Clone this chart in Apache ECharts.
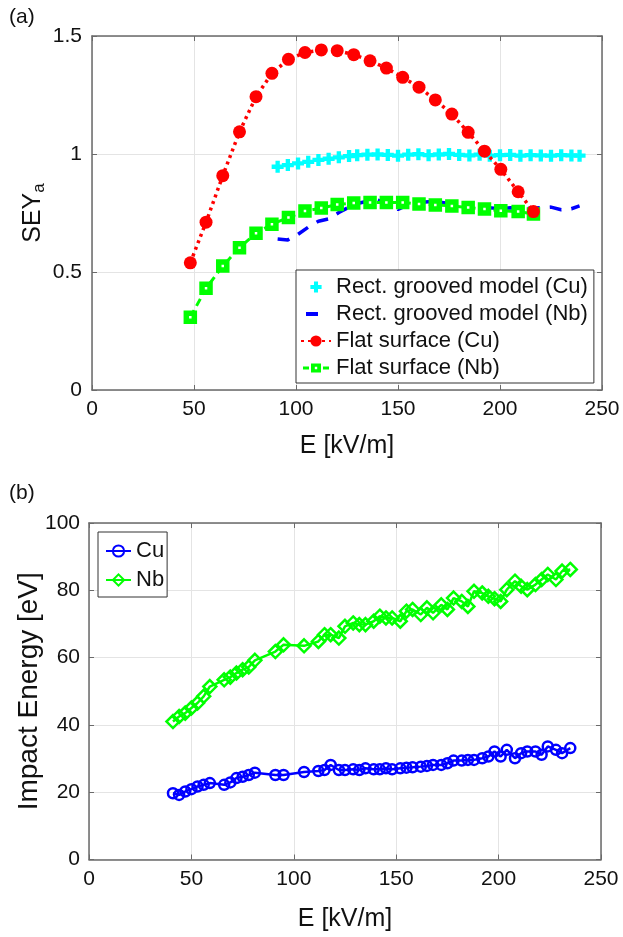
<!DOCTYPE html>
<html>
<head>
<meta charset="utf-8">
<script src="https://cdn.jsdelivr.net/npm/echarts@6/dist/echarts.min.js"></script>
<style>
  html, body { margin: 0; padding: 0; background: #fff; }
  #chart { width: 623px; height: 937px; }
</style>
</head>
<body>
<div id="chart"></div>
<script>
// ---- (a) SEY vs field ----
const flatE = [48.2, 55.9, 64.1, 72.3, 80.4, 88.2, 96.3, 104.4, 112.4, 120.2, 128.3, 136.3, 144.3, 152.3, 160.3, 168.3, 176.4, 184.4, 192.4, 200.4, 208.9, 216.4];
const flatCu = [0.539, 0.711, 0.908, 1.094, 1.243, 1.342, 1.401, 1.430, 1.441, 1.438, 1.421, 1.395, 1.364, 1.325, 1.283, 1.229, 1.169, 1.092, 1.012, 0.935, 0.840, 0.756];
const flatNb = [0.308, 0.431, 0.525, 0.603, 0.664, 0.702, 0.731, 0.758, 0.771, 0.786, 0.792, 0.795, 0.795, 0.795, 0.788, 0.784, 0.780, 0.773, 0.767, 0.760, 0.756, 0.746];

const rectE = [91, 96, 101, 106, 111, 116, 121, 126, 130, 135, 140, 145, 150, 155, 160, 165, 170, 175, 180, 185, 190, 195, 200, 205, 210, 215, 220, 225, 230, 235, 239];
const rectCu = [0.946, 0.953, 0.960, 0.967, 0.975, 0.980, 0.986, 0.991, 0.995, 0.997, 0.998, 0.996, 0.993, 0.997, 0.999, 0.995, 0.998, 1.000, 0.996, 0.994, 0.997, 0.993, 0.995, 0.996, 0.993, 0.995, 0.994, 0.993, 0.995, 0.994, 0.993];
const rectNb = [0.640, 0.636, 0.660, 0.690, 0.715, 0.725, 0.752, 0.775, 0.790, 0.800, 0.805, 0.790, 0.765, 0.785, 0.795, 0.798, 0.797, 0.790, 0.784, 0.780, 0.776, 0.772, 0.768, 0.772, 0.768, 0.770, 0.772, 0.775, 0.764, 0.768, 0.780];

// ---- (b) impact energy vs field ----
const impE = [41, 44, 47, 50, 53, 56, 59, 66, 69, 72, 75, 78, 81, 91, 95, 105, 112, 115, 118, 122, 125, 129, 132, 135, 139, 142, 145, 148, 152, 155, 158, 162, 165, 168, 172, 175, 178, 182, 185, 188, 192, 195, 198, 201, 204, 208, 211, 214, 218, 221, 224, 228, 231, 235];
const impCu = [19.7, 19.2, 20.2, 20.9, 21.7, 22.2, 22.7, 22.2, 22.9, 24.2, 24.6, 25.1, 25.8, 25.1, 25.1, 26.0, 26.3, 26.6, 28.1, 26.6, 26.6, 26.8, 26.6, 27.1, 26.8, 26.8, 27.1, 26.8, 27.1, 27.3, 27.4, 27.6, 27.8, 28.1, 28.1, 28.6, 29.4, 29.4, 29.6, 29.6, 30.1, 30.6, 32.1, 30.6, 32.6, 30.1, 31.6, 32.1, 32.1, 31.1, 33.6, 32.6, 31.6, 33.1];
const impNb = [41.0, 42.5, 43.5, 45.0, 46.5, 48.5, 51.4, 53.4, 54.2, 55.4, 56.4, 57.2, 59.2, 61.8, 63.8, 63.5, 64.8, 66.8, 66.8, 65.8, 69.3, 70.3, 69.8, 69.8, 70.8, 72.3, 71.8, 71.8, 70.8, 73.8, 74.3, 72.8, 74.8, 73.3, 75.7, 74.3, 77.7, 76.7, 75.2, 79.7, 79.2, 78.2, 77.5, 76.7, 80.2, 82.7, 81.2, 80.2, 81.7, 83.2, 84.7, 83.2, 85.7, 86.2];

const xTicks = [0, 50, 100, 150, 200, 250];

const FONT = '"Liberation Sans", Arial, sans-serif';
const AXIS_COLOR = '#6a6a6a';
const GRID_COLOR = '#e4e4e4';
const PLUS = 'path://M3.2,0H6.8V3.2H10V6.8H6.8V10H3.2V6.8H0V3.2H3.2Z';
// legend glyphs; the two tiny corner triangles only fix each icon's bounding box
const DASH_ICON = 'path://M0,0L0.01,0L0,0.01Z M30,14L29.99,14L30,13.99Z M5,5H17V9H5Z';
const SQUARE_LINE_ICON = 'path://M0,0L0.01,0L0,0.01Z M30,14L29.99,14L30,13.99Z ' +
  'M2,5.5H8V8.5H2Z M22,5.5H28V8.5H22Z M10,2.5H20V11.5H10Z M13.8,5.7V8.3H16.2V5.7Z';

const pairs = (xs, ys) => xs.map((x, i) => [x, ys[i]]);

function mainX(gridIndex, nameGap) {
  return {
    type: 'value', gridIndex, min: 0, max: 250, interval: 50, position: 'bottom',
    name: 'E [kV/m]', nameLocation: 'middle', nameGap, nameMoveOverlap: false,
    nameTextStyle: { fontFamily: FONT, fontSize: 25, color: '#111' },
    axisLine: { show: true, onZero: false, lineStyle: { color: AXIS_COLOR, width: 1.5 } },
    axisTick: { show: true, inside: true, length: 5, lineStyle: { color: AXIS_COLOR } },
    axisLabel: { fontFamily: FONT, fontSize: 21, color: '#111', margin: 9,
      formatter: v => xTicks.includes(v) ? String(v) : '' },
    splitLine: { show: true, lineStyle: { color: GRID_COLOR, width: 1 } }
  };
}
function mirrorX(gridIndex) {
  return {
    type: 'value', gridIndex, min: 0, max: 250, interval: 50, position: 'top',
    axisLine: { show: true, onZero: false, lineStyle: { color: AXIS_COLOR, width: 1.5 } },
    axisTick: { show: true, inside: true, length: 5, lineStyle: { color: AXIS_COLOR } },
    axisLabel: { show: false }, splitLine: { show: false }
  };
}
function mirrorY(gridIndex, min, max, interval) {
  return {
    type: 'value', gridIndex, min, max, interval, position: 'right',
    axisLine: { show: true, onZero: false, lineStyle: { color: AXIS_COLOR, width: 1.5 } },
    axisTick: { show: true, inside: true, length: 5, lineStyle: { color: AXIS_COLOR } },
    axisLabel: { show: false }, splitLine: { show: false }
  };
}

const option = {
  animation: false,
  backgroundColor: '#fff',
  textStyle: { fontFamily: FONT },
  graphic: [
    { type: 'text', left: 9, top: 7, style: { text: '(a)', font: '21px ' + FONT, fill: '#111' } },
    { type: 'text', left: 9, top: 483, style: { text: '(b)', font: '21px ' + FONT, fill: '#111' } }
  ],
  grid: [
    { left: 92, right: 21, top: 36, height: 354 },
    { left: 89, right: 22, top: 523, height: 336.5 }
  ],
  xAxis: [mainX(0, 44), mainX(1, 47), mirrorX(0), mirrorX(1)],
  yAxis: [
    {
      type: 'value', gridIndex: 0, min: 0, max: 1.5, interval: 0.5, position: 'left',
      name: '{m|SEY}{s|a}', nameLocation: 'middle', nameGap: 46, nameMoveOverlap: false,
      nameTextStyle: {
        fontFamily: FONT, color: '#111',
        rich: {
          m: { fontFamily: FONT, fontSize: 25, lineHeight: 25, color: '#111' },
          s: { fontFamily: FONT, fontSize: 17, lineHeight: 17, padding: [12, 0, 0, 0], color: '#111' }
        }
      },
      axisLine: { show: true, onZero: false, lineStyle: { color: AXIS_COLOR, width: 1.5 } },
      axisTick: { show: true, inside: true, length: 5, lineStyle: { color: AXIS_COLOR } },
      axisLabel: { fontFamily: FONT, fontSize: 21, color: '#111', margin: 10 },
      splitLine: { show: true, lineStyle: { color: GRID_COLOR, width: 1 } }
    },
    {
      type: 'value', gridIndex: 1, min: 0, max: 100, interval: 20, position: 'left',
      name: 'Impact Energy [eV]', nameLocation: 'middle', nameGap: 46, nameMoveOverlap: false,
      nameTextStyle: { fontFamily: FONT, fontSize: 28, color: '#111' },
      axisLine: { show: true, onZero: false, lineStyle: { color: AXIS_COLOR, width: 1.5 } },
      axisTick: { show: true, inside: true, length: 5, lineStyle: { color: AXIS_COLOR } },
      axisLabel: { fontFamily: FONT, fontSize: 21, color: '#111', margin: 9 },
      splitLine: { show: true, lineStyle: { color: GRID_COLOR, width: 1 } }
    },
    mirrorY(0, 0, 1.5, 0.5),
    mirrorY(1, 0, 100, 20)
  ],
  legend: [
    {
      left: 296, top: 270, orient: 'vertical',
      data: [
        'Rect. grooved model (Cu)',
        { name: 'Rect. grooved model (Nb)', icon: DASH_ICON },
        'Flat surface (Cu)',
        { name: 'Flat surface (Nb)', icon: SQUARE_LINE_ICON,
          itemStyle: { color: '#00ff00', borderWidth: 0 } }
      ],
      itemWidth: 30, itemHeight: 14, itemGap: 5,
      padding: [6, 6, 4, 4],
      borderColor: '#333', borderWidth: 1, backgroundColor: '#fff',
      textStyle: { fontFamily: FONT, fontSize: 22, color: '#111', lineHeight: 22 }
    },
    {
      left: 98, top: 532, orient: 'vertical',
      data: ['Cu', 'Nb'],
      itemWidth: 25, itemHeight: 14, itemGap: 7,
      padding: [8, 3, 6, 7],
      borderColor: '#333', borderWidth: 1, backgroundColor: '#fff',
      textStyle: { fontFamily: FONT, fontSize: 22, color: '#111', lineHeight: 22 }
    }
  ],
  series: [
    {
      name: 'Rect. grooved model (Nb)', type: 'line', xAxisIndex: 0, yAxisIndex: 0,
      data: pairs(rectE, rectNb), symbol: 'none',
      lineStyle: { color: '#0000ff', width: 3.5, type: [12, 10] },
      itemStyle: { color: '#0000ff' }, z: 2
    },
    {
      name: 'Flat surface (Nb)', type: 'line', xAxisIndex: 0, yAxisIndex: 0,
      data: pairs(flatE, flatNb), symbol: 'rect', symbolSize: 8,
      lineStyle: { color: '#00ff00', width: 3, type: [8, 5] },
      itemStyle: { color: '#ffffff', borderColor: '#00ff00', borderWidth: 5.5 }, z: 3
    },
    {
      name: 'Rect. grooved model (Cu)', type: 'line', xAxisIndex: 0, yAxisIndex: 0,
      data: pairs(rectE, rectCu), symbol: PLUS, symbolSize: 12,
      lineStyle: { width: 0, opacity: 0 },
      itemStyle: { color: '#00ffff' }, z: 4
    },
    {
      name: 'Flat surface (Cu)', type: 'line', xAxisIndex: 0, yAxisIndex: 0,
      data: pairs(flatE, flatCu), symbol: 'circle', symbolSize: 13,
      lineStyle: { color: '#ff0000', width: 3.5, type: [3, 4] },
      itemStyle: { color: '#ff0000' }, z: 5
    },
    {
      name: 'Cu', type: 'line', xAxisIndex: 1, yAxisIndex: 1,
      data: pairs(impE, impCu), symbol: 'circle', symbolSize: 10,
      lineStyle: { color: '#0000ff', width: 2.5 },
      itemStyle: { color: 'rgba(255,255,255,0)', borderColor: '#0000ff', borderWidth: 2.5 }
    },
    {
      name: 'Nb', type: 'line', xAxisIndex: 1, yAxisIndex: 1,
      data: pairs(impE, impNb), symbol: 'diamond', symbolSize: 13,
      lineStyle: { color: '#00ff00', width: 2.5 },
      itemStyle: { color: 'rgba(255,255,255,0)', borderColor: '#00ff00', borderWidth: 2.5 }
    }
  ]
};

const chart = echarts.init(document.getElementById('chart'), null, { renderer: 'canvas' });
chart.setOption(option);
</script>
</body>
</html>
